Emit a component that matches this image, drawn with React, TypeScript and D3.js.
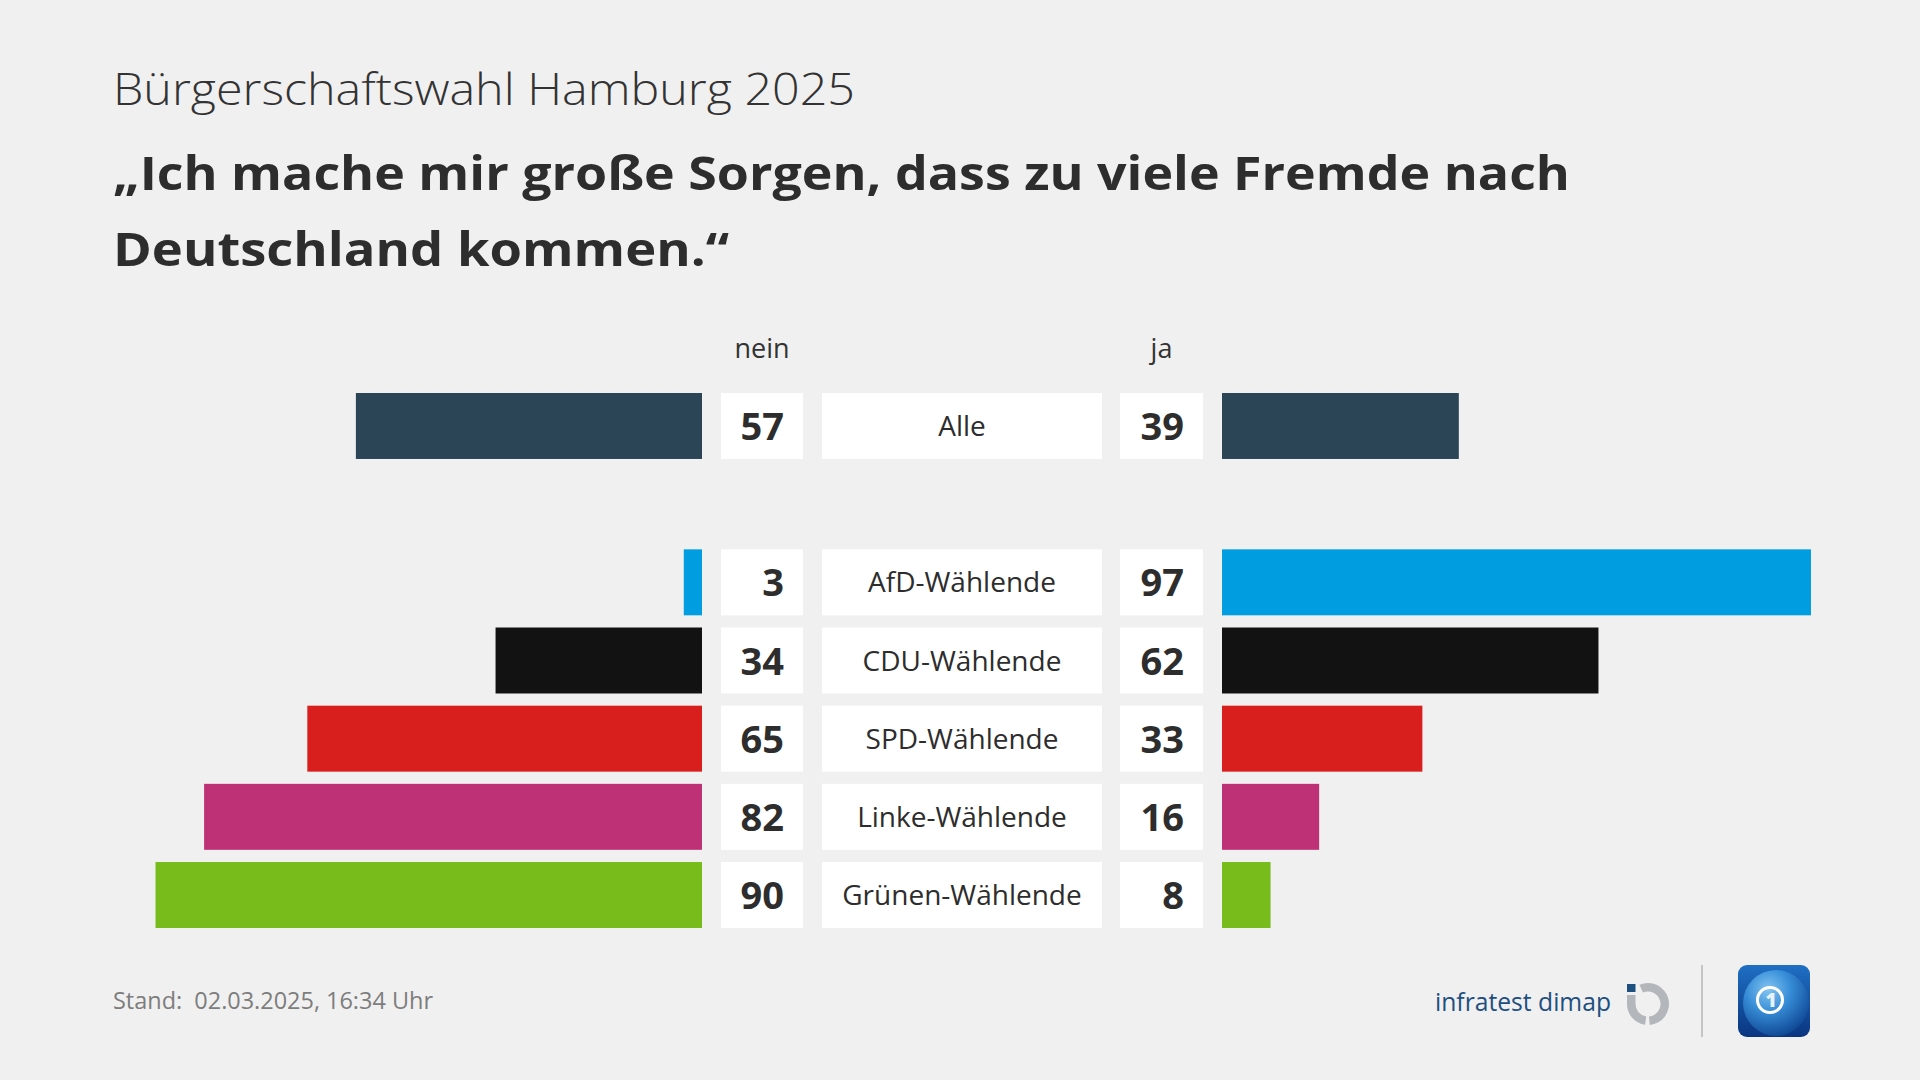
import React from "react";
import * as d3 from "d3";

const categories = ["Alle", "AfD-Wählende", "CDU-Wählende", "SPD-Wählende", "Linke-Wählende", "Grünen-Wählende"];
const neinValues = [57, 3, 34, 65, 82, 90];
const jaValues = [39, 97, 62, 33, 16, 8];
const barColors = ["#2b4557", "#009ee0", "#121212", "#d81f1e", "#be3176", "#78bc1c"];
const slots = ["Alle", "__gap__", "AfD-Wählende", "CDU-Wählende", "SPD-Wählende", "Linke-Wählende", "Grünen-Wählende"];

const subtitle = "Bürgerschaftswahl Hamburg 2025";
const titleLines = ["„Ich mache mir große Sorgen, dass zu viele Fremde nach", "Deutschland kommen.“"];
const headerNein = "nein";
const headerJa = "ja";
const footer = "Stand:\u00A0 02.03.2025, 16:34 Uhr";

const FONT = "'Open Sans', 'Noto Sans', sans-serif";

export default function App() {
  const W = 1920, H = 1080;
  const y = d3.scaleBand<string>().domain(slots).range([393, 928]).paddingInner(0.156).paddingOuter(0);
  const leftZero = 702, rightZero = 1222;
  const xNein = d3.scaleLinear().domain([0, 100]).range([leftZero, leftZero - 607.2]);
  const xJa = d3.scaleLinear().domain([0, 100]).range([rightZero, rightZero + 607.2]);
  const bw = y.bandwidth();
  const neinBox = [721, 803];
  const labelBox = [822, 1102];
  const jaBox = [1120, 1203];

  const arc = d3.arc();
  const ringC = [1648, 1004];
  const rOut = 21, rIn = 12.5;

  return (
    <svg width={W} height={H} style={{ position: "absolute", left: 0, top: 0 }} xmlns="http://www.w3.org/2000/svg">
      <defs>
        <linearGradient id="tsbg" x1="0" y1="0" x2="0" y2="1">
          <stop offset="0" stopColor="#1f6fc4" />
          <stop offset="1" stopColor="#0a3580" />
        </linearGradient>
        <radialGradient id="globe" cx="0.38" cy="0.3" r="0.75">
          <stop offset="0" stopColor="#8fd0f8" />
          <stop offset="0.45" stopColor="#3a92dc" />
          <stop offset="1" stopColor="#0d4592" />
        </radialGradient>
        <clipPath id="tsclip">
          <rect x={1738} y={965} width={72} height={72} rx={9} />
        </clipPath>
      </defs>
      <rect x={0} y={0} width={W} height={H} fill="#f0f0f0" />

      <text x={113} y={105} fontFamily={FONT} fontSize={44} fontWeight={300} fill="#333" textLength={742} lengthAdjust="spacingAndGlyphs">{subtitle}</text>
      <text x={113} y={190} fontFamily={FONT} fontSize={46} fontWeight={700} fill="#2d2d2d" textLength={1457} lengthAdjust="spacingAndGlyphs">{titleLines[0]}</text>
      <text x={113} y={266} fontFamily={FONT} fontSize={46} fontWeight={700} fill="#2d2d2d" textLength={616} lengthAdjust="spacingAndGlyphs">{titleLines[1]}</text>

      <text x={(neinBox[0] + neinBox[1]) / 2} y={358} textAnchor="middle" fontFamily={FONT} fontSize={27} fill="#333">{headerNein}</text>
      <text x={(jaBox[0] + jaBox[1]) / 2} y={358} textAnchor="middle" fontFamily={FONT} fontSize={27} fill="#333">{headerJa}</text>

      {categories.map((c, i) => {
        const top = y(c)!;
        const cy = top + bw / 2;
        return (
          <g key={c}>
            <rect x={xNein(neinValues[i])} y={top} width={leftZero - xNein(neinValues[i])} height={bw} fill={barColors[i]} />
            <rect x={neinBox[0]} y={top} width={neinBox[1] - neinBox[0]} height={bw} fill="#fff" />
            <rect x={labelBox[0]} y={top} width={labelBox[1] - labelBox[0]} height={bw} fill="#fff" />
            <rect x={jaBox[0]} y={top} width={jaBox[1] - jaBox[0]} height={bw} fill="#fff" />
            <rect x={rightZero} y={top} width={xJa(jaValues[i]) - rightZero} height={bw} fill={barColors[i]} />
            <text x={neinBox[1] - 19} y={cy + 14} textAnchor="end" fontFamily={FONT} fontSize={38} fontWeight={700} fill="#2d2d2d">{neinValues[i]}</text>
            <text x={jaBox[1] - 19} y={cy + 14} textAnchor="end" fontFamily={FONT} fontSize={38} fontWeight={700} fill="#2d2d2d">{jaValues[i]}</text>
            <text x={(labelBox[0] + labelBox[1]) / 2} y={cy + 10} textAnchor="middle" fontFamily={FONT} fontSize={28} fill="#2d2d2d">{c}</text>
          </g>
        );
      })}

      <text x={113} y={1009} fontFamily={FONT} fontSize={23} fill="#7d7d7d" textLength={320} lengthAdjust="spacingAndGlyphs">{footer}</text>

      {/* infratest dimap logo */}
      <text x={1435} y={1011} fontFamily={FONT} fontSize={26} fontWeight={500} fill="#1d4f80" textLength={176} lengthAdjust="spacingAndGlyphs">infratest dimap</text>
      <g transform={`translate(${ringC[0]},${ringC[1]})`} fill="#b3b7bb">
        <path d={arc({ innerRadius: rIn, outerRadius: rOut, startAngle: -0.42, endAngle: Math.PI - 0.08 }) || ""} />
        <path d={arc({ innerRadius: rIn, outerRadius: rOut, startAngle: Math.PI + 0.14, endAngle: Math.PI * 1.5 }) || ""} />
        <rect x={-rOut} y={-9} width={rOut - rIn} height={9.5} />
      </g>
      <rect x={1627} y={984} width={8.5} height={8} fill="#1d4f80" />

      <line x1={1702} y1={965} x2={1702} y2={1037} stroke="#c4c4c4" strokeWidth={2} />

      {/* tagesschau icon */}
      <rect x={1738} y={965} width={72} height={72} rx={9} fill="url(#tsbg)" />
      <g clipPath="url(#tsclip)">
        <circle cx={1776} cy={1003} r={33} fill="url(#globe)" opacity={0.9} />
      </g>
      <circle cx={1770} cy={1000} r={12.5} fill="none" stroke="#fff" strokeWidth={3} />
      <text x={1771} y={1007} textAnchor="middle" fontFamily={FONT} fontSize={19} fontWeight={800} fill="#e8f2fb">1</text>
    </svg>
  );
}
